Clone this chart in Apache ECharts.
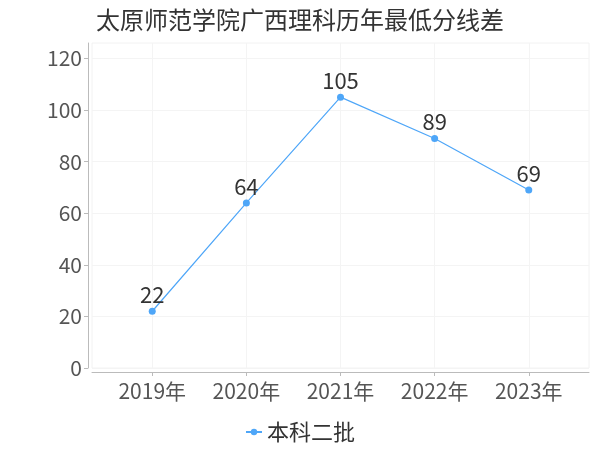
<!DOCTYPE html>
<html><head><meta charset="utf-8">
<script src="https://cdn.jsdelivr.net/npm/echarts@6/dist/echarts.min.js"></script>
<style>html,body{margin:0;padding:0;background:#fff}#c{width:600px;height:450px}</style>
</head><body><div id="c"></div>
<script>
var categories = ['2019年', '2020年', '2021年', '2022年', '2023年'];
var seriesName = '本科二批';
var values = [22, 64, 105, 89, 69];
var yTicks = [0, 20, 40, 60, 80, 100, 120];
var titleText = '太原师范学院广西理科历年最低分线差';

var font = 'Noto Sans CJK SC';
var chart = echarts.init(document.getElementById('c'));
var idx = categories.map(function (c, i) { return i; });
chart.setOption({
  animation: false,
  title: { text: titleText, left: 'center', top: 3, textStyle: { fontFamily: font, fontSize: 24, fontWeight: 'normal', color: '#333' } },
  legend: { bottom: 2, left: 'center', itemWidth: 16, itemHeight: 8, textStyle: { fontFamily: font, fontSize: 22, color: '#333' }, data: [seriesName] },
  grid: { left: 92, right: 11, top: 43, bottom: 82, show: true, borderColor: '#f2f2f2', borderWidth: 1 },
  xAxis: {
    type: 'value', min: -0.64, max: 4.64, offset: 4,
    axisLine: { onZero: false, lineStyle: { color: '#bbb' } },
    axisTick: { show: true, customValues: idx, length: 4, lineStyle: { color: '#bbb' } },
    axisLabel: { customValues: idx, fontFamily: font, fontSize: 21, color: '#555', margin: 9, formatter: function (v) { return categories[Math.round(v)]; } },
    splitLine: { show: true, lineStyle: { color: '#f4f4f4' } }
  },
  yAxis: {
    type: 'value', min: 0, max: 126, offset: 4,
    axisLine: { show: true, onZero: false, lineStyle: { color: '#bbb' } },
    axisTick: { show: true, customValues: yTicks, length: 4, lineStyle: { color: '#bbb' } },
    axisLabel: { customValues: yTicks, fontFamily: font, fontSize: 21, color: '#555', margin: 6 },
    splitLine: { show: true, lineStyle: { color: '#f4f4f4' } }
  },
  series: [{
    name: seriesName, type: 'line', data: values.map(function (v, i) { return [i, v]; }),
    symbol: 'circle', symbolSize: 7,
    lineStyle: { color: '#4ea6f8', width: 1.2 }, itemStyle: { color: '#4ea6f8' },
    label: { show: true, position: 'top', distance: 2, fontFamily: font, fontSize: 22, color: '#333' }
  }]
});
</script></body></html>
